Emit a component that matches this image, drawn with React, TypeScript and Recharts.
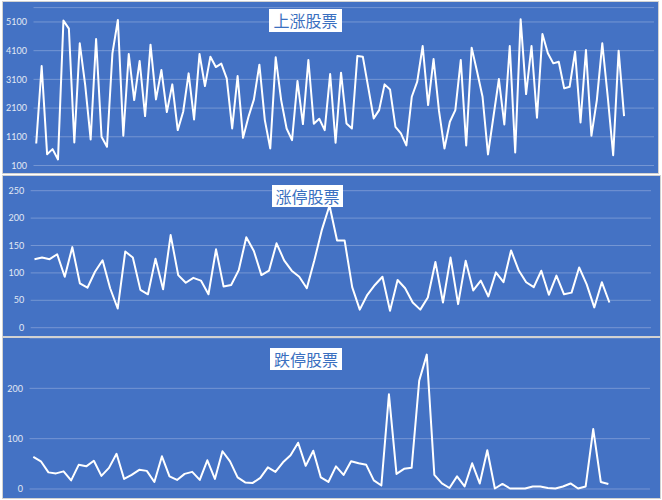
import React from "react";
import { LineChart, Line, XAxis, YAxis, CartesianGrid } from "recharts";

// ---- data ----
const upTitle = "上涨股票";
const limitUpTitle = "涨停股票";
const limitDownTitle = "跌停股票";

const upCategoryCount = 114;
const limitCategoryCount = 82;

const upTicks = [100, 1100, 2100, 3100, 4100, 5100];
const limitUpTicks = [0, 50, 100, 150, 200, 250];
const limitDownTicks = [0, 100, 200];

const upValues = [
  867, 3565, 495, 670, 310, 5147, 4867, 902, 4356, 2900, 1007, 4507, 1100, 751, 4007, 5170, 1135, 3984, 2379, 3740,
  1820, 4309, 2402, 3426, 1960, 2926, 1333, 1972, 3309, 1705, 3984, 2867, 3891, 3530, 3647, 3135, 1390, 3216, 1065, 1798,
  2402, 3612, 1681, 693, 3867, 2379, 1390, 984, 3042, 1542, 3774, 1553, 1728, 1333, 3286, 891, 3333, 1565, 1390, 3914,
  3891, 2821, 1740, 2030, 2926, 2751, 1449, 1216, 798, 2495, 3019, 4263, 2205, 3809, 2000, 693, 1623, 2030, 3774, 798,
  4205, 3367, 2495, 484, 1798, 3112, 1530, 4263, 553, 5193, 2588, 4263, 1763, 4681, 4007, 3658, 3716, 2786, 2844, 4065,
  1600, 4123, 1135, 2379, 4356, 2495, 460, 4100, 1820,
];

const limitUpValues = [
  125, 128, 125, 134, 93, 147, 81, 73, 102, 123, 72, 35, 139, 128, 69, 61, 126, 70, 169, 96,
  82, 91, 86, 61, 143, 75, 78, 105, 165, 140, 96, 104, 154, 123, 104, 93, 72, 123, 179, 223,
  159, 159, 74, 33, 60, 78, 93, 31, 87, 72, 46, 33, 55, 120, 46, 128, 43, 122, 68, 86,
  57, 101, 83, 141, 105, 83, 74, 104, 60, 95, 61, 64, 110, 79, 37, 83, 46,
];

const limitDownValues = [
  64, 55, 33, 31, 35, 17, 48, 45, 56, 26, 42, 70, 20, 28, 38, 36, 14, 65, 25, 18,
  30, 34, 18, 57, 20, 75, 55, 23, 13, 12, 22, 43, 34, 53, 67, 92, 46, 76, 23, 14,
  45, 28, 55, 51, 48, 17, 7, 188, 30, 40, 42, 215, 267, 28, 11, 2, 25, 5, 51, 11,
  77, 1, 10, 1, 1, 1, 5, 5, 2, 1, 5, 11, 1, 5, 119, 14, 10,
];

// ---- styling ----
const BLUE = "#4472C4";
const GRID = "#7596d3";
const TICK = "#e3e9f4";
const FONT = "Lato, 'Open Sans', sans-serif";

type PanelProps = {
  title: string;
  values: number[];
  count: number;
  domain: [number, number];
  ticks: number[];
  left: number;
  top: number;
  width: number;
  height: number;
  axisWidth: number;
  margin: { top: number; right: number; bottom: number };
  titleBox: { left: number; top: number; width: number; height: number };
};

function Panel(p: PanelProps) {
  const data = p.values.map((v, i) => ({ i, v }));
  return (
    <>
      <div
        style={{
          position: "absolute",
          left: p.left,
          top: p.top,
          width: p.width,
          height: p.height,
          background: BLUE,
          boxShadow: "0 0 0 1px #d2d2d2",
        }}
      >
        <LineChart
          width={p.width}
          height={p.height}
          data={data}
          margin={{ top: p.margin.top, right: p.margin.right, bottom: p.margin.bottom, left: 0 }}
        >
          <CartesianGrid vertical={false} stroke={GRID} strokeWidth={1} />
          <XAxis
            type="number"
            dataKey="i"
            domain={[-0.5, p.count - 0.5]}
            hide
          />
          <YAxis
            type="number"
            domain={p.domain}
            ticks={p.ticks}
            interval={0}
            width={p.axisWidth}
            axisLine={false}
            tickLine={false}
            tickSize={0}
            tickMargin={6.5}
            tick={{ fill: TICK, fontSize: 9, fontFamily: FONT }}
          />
          <Line
            type="linear"
            dataKey="v"
            stroke="#ffffff"
            strokeWidth={2}
            strokeLinejoin="round"
            dot={false}
            activeDot={false}
            isAnimationActive={false}
          />
        </LineChart>
      </div>
      <div
        style={{
          position: "absolute",
          left: p.titleBox.left,
          top: p.titleBox.top,
          width: p.titleBox.width,
          height: p.titleBox.height,
          background: "#ffffff",
          color: "#3b70c0",
          fontFamily: "'Noto Sans CJK SC', sans-serif",
          fontSize: 16,
          lineHeight: p.titleBox.height + "px",
          textAlign: "center",
        }}
      >
        {p.title}
      </div>
    </>
  );
}

export default function App() {
  return (
    <div
      style={{
        position: "absolute",
        left: 0,
        top: 0,
        width: 662,
        height: 500,
        background: "#ffffff",
        overflow: "hidden",
      }}
    >
      <Panel
        title={upTitle}
        values={upValues}
        count={upCategoryCount}
        domain={[100, 5600]}
        ticks={upTicks}
        left={3}
        top={2}
        width={655}
        height={171}
        axisWidth={30.5}
        margin={{ top: 5.6, right: 4, bottom: 7.5 }}
        titleBox={{ left: 269, top: 9, width: 73, height: 23 }}
      />
      <Panel
        title={limitUpTitle}
        values={limitUpValues}
        count={limitCategoryCount}
        domain={[0, 250]}
        ticks={limitUpTicks}
        left={3}
        top={176}
        width={656.5}
        height={159.5}
        axisWidth={27.7}
        margin={{ top: 14.7, right: 8.5, bottom: 7.8 }}
        titleBox={{ left: 272, top: 185, width: 71, height: 22 }}
      />
      <Panel
        title={limitDownTitle}
        values={limitDownValues}
        count={limitCategoryCount}
        domain={[0, 300]}
        ticks={limitDownTicks}
        left={3}
        top={338.3}
        width={656.5}
        height={159.4}
        axisWidth={26.5}
        margin={{ top: 0, right: 9.5, bottom: 8.4 }}
        titleBox={{ left: 270, top: 347.5, width: 72, height: 22 }}
      />
    </div>
  );
}
